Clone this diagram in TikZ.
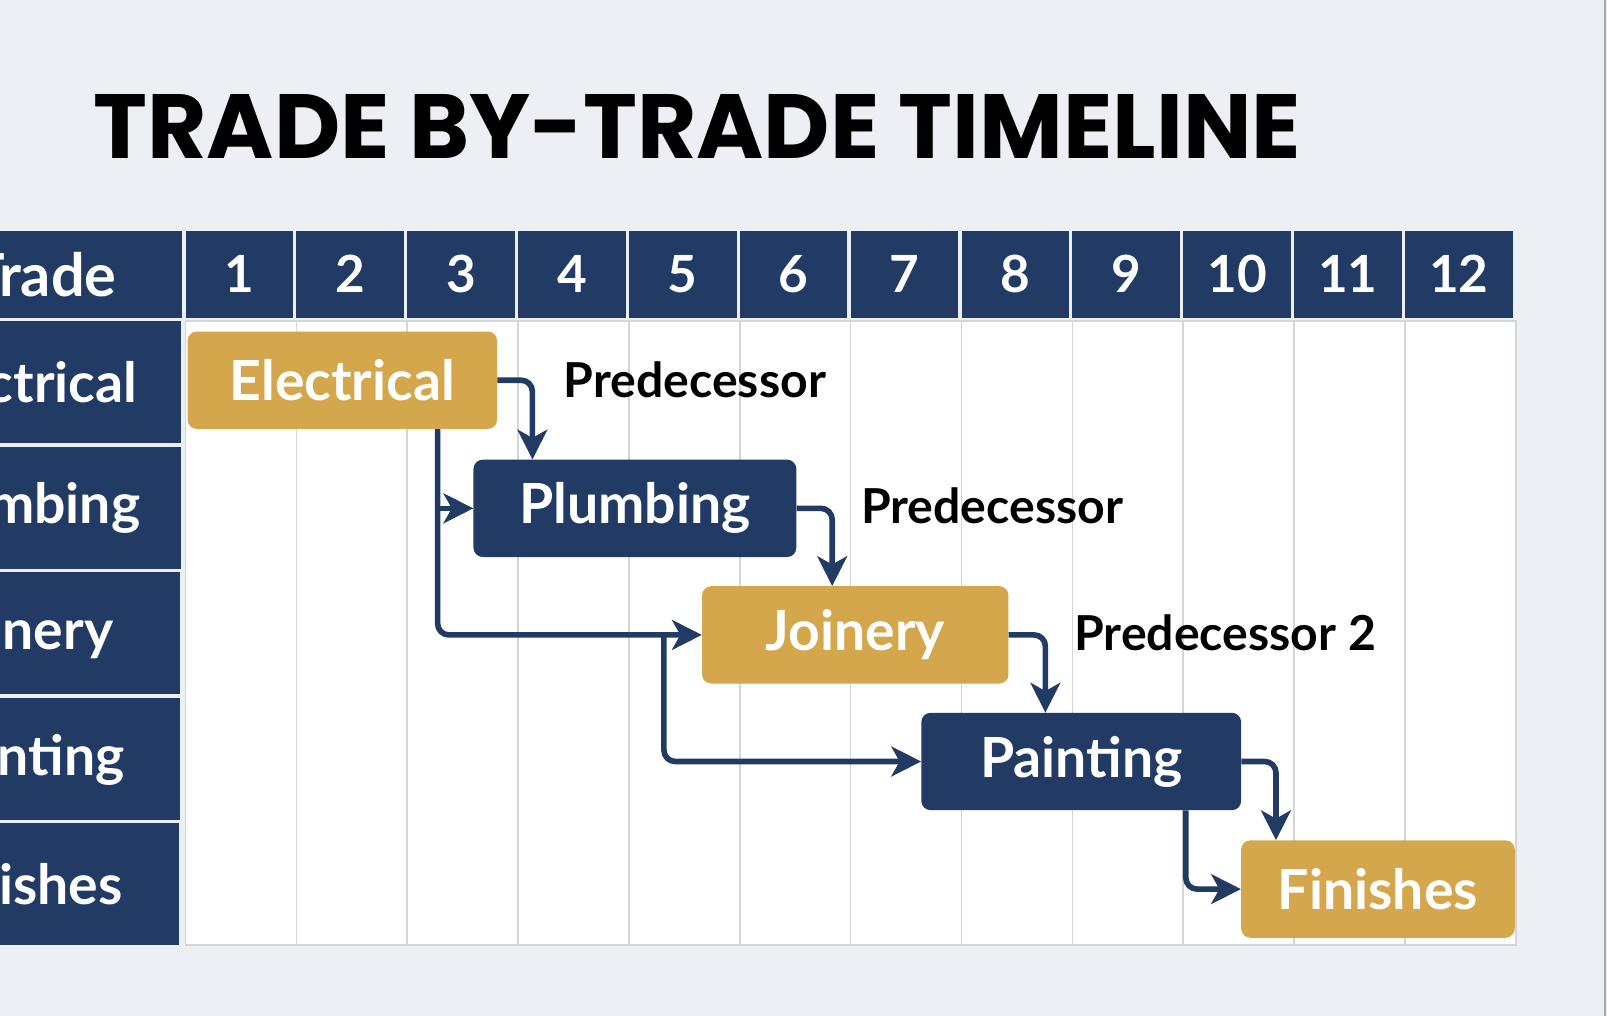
\documentclass[tikz,border=0pt]{standalone}
\usepackage{fontspec}
\setmainfont{Lato}
\newfontfamily\titlefont{Poppins}
\usetikzlibrary{arrows.meta}
\definecolor{navy}{RGB}{33,59,101}
\definecolor{gold}{RGB}{212,167,76}
\definecolor{paper}{RGB}{236,239,243}
\definecolor{gridline}{RGB}{210,213,218}
\tikzset{
  headcell/.style={fill=navy, text=white, inner sep=0pt, minimum width=105pt, minimum height=85pt,
    font=\fontsize{50}{50}\selectfont\bfseries},
  rowcell/.style={fill=navy, text=white, inner sep=0pt, minimum width=306pt, minimum height=119pt,
    font=\fontsize{54}{54}\selectfont\bfseries},
  bar/.style={rounded corners=9pt, inner sep=0pt, text=white, minimum height=95pt,
    font=\fontsize{54}{54}\selectfont\bfseries},
  goldbar/.style={bar, fill=gold},
  navybar/.style={bar, fill=navy},
  predtext/.style={anchor=west, inner sep=0pt, font=\fontsize{47}{47}\selectfont\bfseries},
  flow/.style={draw=navy, line width=5.5pt, rounded corners=11pt, -{Stealth[length=29pt,width=29pt,inset=8pt]}}
}
\begin{document}
\begin{tikzpicture}[x=1pt,y=-1pt]
        \clip (0,0) rectangle (1568,991);
        \useasboundingbox (0,0) rectangle (1568,991);
        \fill[paper] (0,0) rectangle (1568,991);
        \draw[gray!70, line width=2pt] (1566,0) -- (1566,991);
        % title
        \node[anchor=base west, inner sep=0pt, font=\fontsize{89}{89}\selectfont\titlefont\bfseries] (title) at (91,155) {TRADE BY-TRADE TIMELINE};
        % grid
        \fill[white] (181,313) rectangle (1479,922);
        \draw[gridline, line width=1.5pt] (181,313) rectangle (1479,922);
        \draw[gridline, line width=1.5pt] (289.2,313) -- (289.2,922);
        \draw[gridline, line width=1.5pt] (397.3,313) -- (397.3,922);
        \draw[gridline, line width=1.5pt] (505.5,313) -- (505.5,922);
        \draw[gridline, line width=1.5pt] (613.7,313) -- (613.7,922);
        \draw[gridline, line width=1.5pt] (721.9,313) -- (721.9,922);
        \draw[gridline, line width=1.5pt] (830.0,313) -- (830.0,922);
        \draw[gridline, line width=1.5pt] (938.2,313) -- (938.2,922);
        \draw[gridline, line width=1.5pt] (1046.4,313) -- (1046.4,922);
        \draw[gridline, line width=1.5pt] (1154.5,313) -- (1154.5,922);
        \draw[gridline, line width=1.5pt] (1262.7,313) -- (1262.7,922);
        \draw[gridline, line width=1.5pt] (1370.9,313) -- (1370.9,922);
        % header row
        \node[headcell, minimum width=272pt, font=\fontsize{58}{58}\selectfont\bfseries] (htrade) at (42,267.5) {Trade};
        \node[headcell] (h1) at (233.5,267.5) {1};
        \node[headcell] (h2) at (341.7,267.5) {2};
        \node[headcell] (h3) at (449.8,267.5) {3};
        \node[headcell] (h4) at (558.0,267.5) {4};
        \node[headcell] (h5) at (666.2,267.5) {5};
        \node[headcell] (h6) at (774.4,267.5) {6};
        \node[headcell] (h7) at (882.5,267.5) {7};
        \node[headcell] (h8) at (990.7,267.5) {8};
        \node[headcell] (h9) at (1098.9,267.5) {9};
        \node[headcell] (h10) at (1207.0,267.5) {10};
        \node[headcell] (h11) at (1315.2,267.5) {11};
        \node[headcell] (h12) at (1423.4,267.5) {12};
        % trade column
        \node[rowcell] (relec) at (24,372.5) {Electrical};
        \node[rowcell] (rplumb) at (24,495.5) {Plumbing};
        \node[rowcell] (rjoin) at (23,618) {Joinery};
        \node[rowcell] (rpaint) at (23,741) {Painting};
        \node[rowcell] (rfin) at (22,863) {Finishes};
        % bars
        \node[goldbar, minimum width=302pt] (elec) at (334,371) {Electrical};
        \node[navybar, minimum width=315pt] (plumb) at (619.5,496) {Plumbing};
        \node[goldbar, minimum width=299pt] (join) at (834.5,619.5) {Joinery};
        \node[navybar, minimum width=312pt] (paint) at (1055,743) {Painting};
        \node[goldbar, minimum width=267pt] (fin) at (1344.5,867.5) {Finishes};
        \node[predtext] (pred1) at (550,371) {Predecessor};
        \node[predtext] (pred2) at (840,494) {Predecessor};
        \node[predtext] (pred3) at (1048,617) {Predecessor 2};
        % links
        \coordinate (etap) at ([xshift=93pt]elec.south);
        \coordinate (jtap) at ([xshift=-37pt]join.west);
        \coordinate (ptap) at ([xshift=102pt]paint.south);
        \draw[flow] (elec.east) -| ([xshift=-100pt]plumb.north);
        \draw[flow] (etap) |- (join.west);
        \draw[flow, rounded corners=0pt] (etap |- plumb.west) -- (plumb.west);
        \draw[flow] (plumb.east) -| ([xshift=-22.5pt]join.north);
        \draw[flow] (join.east) -| ([xshift=-35pt]paint.north);
        \draw[flow] (jtap) |- (paint.west);
        \draw[flow] (paint.east) -| ([xshift=-99.5pt]fin.north);
        \draw[flow] (ptap) |- (fin.west);
      \end{tikzpicture}
\end{document}
